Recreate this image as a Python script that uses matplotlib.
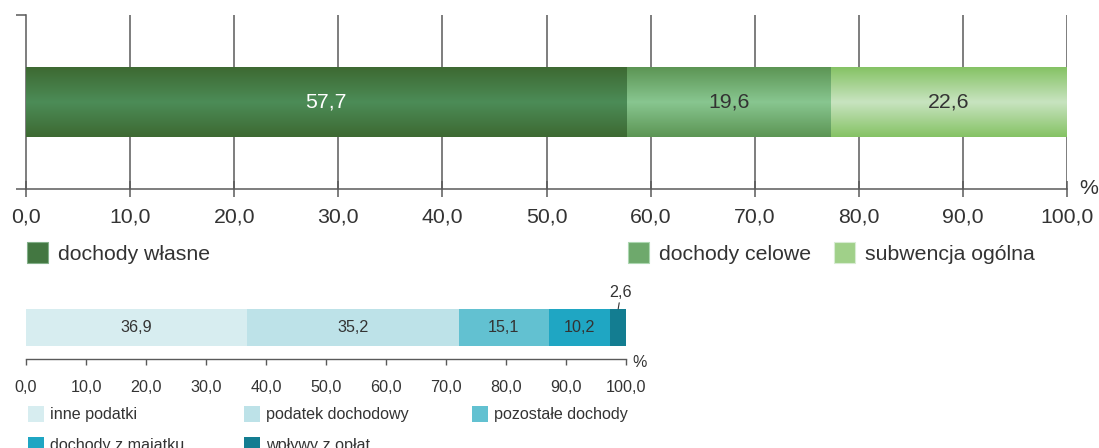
import matplotlib
matplotlib.use("Agg")
import matplotlib.pyplot as plt
import numpy as np
from matplotlib.colors import LinearSegmentedColormap, to_rgb
from matplotlib.patches import Rectangle

plt.rcParams['font.family'] = ['Liberation Sans', 'DejaVu Sans']

# ---- data ----
top_categories = ["dochody własne", "dochody celowe", "subwencja ogólna"]
top_values = [57.7, 19.6, 22.6]
top_edge_colors = ["#3d6932", "#5c9554", "#85c264"]
top_center_colors = ["#4c8c57", "#88c690", "#c8e4c0"]
top_label_colors = ["#ffffff", "#333333", "#333333"]

bottom_categories = ["inne podatki", "podatek dochodowy", "pozostałe dochody",
                     "dochody z majątku", "wpływy z opłat"]
bottom_values = [36.9, 35.2, 15.1, 10.2, 2.6]
bottom_colors = ["#d7edf0", "#bde2e8", "#62c1d1", "#1fa6c3", "#137d91"]

ticks = np.arange(0, 101, 10)
tick_labels = [f"{t:.1f}".replace(".", ",") for t in ticks]

W, H = 1099, 448
fig = plt.figure(figsize=(W / 100, H / 100), dpi=100)

def px_axes(l, t, r, b):
    return fig.add_axes([l / W, 1 - b / H, (r - l) / W, (b - t) / H])

def fmt(v):
    return f"{v:.1f}".replace(".", ",")

def mix(a, b, f=0.5):
    a, b = np.array(to_rgb(a)), np.array(to_rgb(b))
    return tuple(a * (1 - f) + b * f)

axc = "#5a5a5a"
txtc = "#333333"
FS_TOP = 15.3
FS_BOT = 11.6

# ---- top chart ----
ax = px_axes(26, 15, 1067, 189)
ax.set_xlim(0, 100)
ax.set_ylim(0, 1)
left = 0
bars = []
for v, ec, cc in zip(top_values, top_edge_colors, top_center_colors):
    b = ax.barh(0.5, v, left=left, height=0.40, color=cc, zorder=3)[0]
    bars.append(b)
    left += v
for b, ec, cc, lc, v in zip(bars, top_edge_colors, top_center_colors, top_label_colors, top_values):
    cmap = LinearSegmentedColormap.from_list("g", [ec, cc, ec])
    grad = np.linspace(0, 1, 256).reshape(-1, 1)
    im = ax.imshow(grad, cmap=cmap, aspect='auto', zorder=4,
                   extent=(b.get_x(), b.get_x() + b.get_width(), b.get_y(), b.get_y() + b.get_height()))
    im.set_clip_path(b)
    ax.text(b.get_x() + b.get_width() / 2, 0.5, fmt(v), ha='center', va='center',
            color=lc, fontsize=FS_TOP, zorder=5)
ax.set_xlim(0, 100)
ax.set_ylim(0, 1)
for t in ticks[1:]:
    ax.axvline(t, color=axc, lw=1.1, zorder=1)
for s in ['top', 'right']:
    ax.spines[s].set_visible(False)
ax.spines['left'].set_color(axc)
ax.spines['bottom'].set_color(axc)
ax.spines['left'].set_linewidth(1.1)
ax.spines['bottom'].set_linewidth(1.1)
ax.set_xticks(ticks)
ax.set_xticklabels(tick_labels)
ax.tick_params(axis='x', direction='inout', length=11, width=1.1, color=axc,
               labelsize=FS_TOP, labelcolor=txtc, pad=8)
ax.set_yticks([0, 1])
ax.set_yticklabels([])
ax.tick_params(axis='y', direction='out', length=7, width=1.1, color=axc)
fig.text(1089 / W, 1 - 189 / H, "%", ha='center', va='center', fontsize=FS_TOP, color=txtc)

# top legend
top_leg_x = [27, 628, 834]
for x, cat, ec, cc in zip(top_leg_x, top_categories, top_edge_colors, top_center_colors):
    fig.patches.append(Rectangle((x / W, 1 - 263 / H), 21 / W, 21 / H, transform=fig.transFigure,
                                 facecolor=mix(ec, cc, 0.4), edgecolor=mix(cc, "#ffffff", 0.3), lw=0.8))
    fig.text((x + 31) / W, 1 - 254 / H, cat, ha='left', va='center', fontsize=FS_TOP, color=txtc)

# ---- bottom chart ----
ax2 = px_axes(26, 300, 626, 359)
left = 0
bbars = []
for v, c in zip(bottom_values, bottom_colors):
    b = ax2.barh(0.535, v, left=left, height=0.63, color=c, zorder=3)[0]
    bbars.append(b)
    left += v
for b, v in zip(bbars[:-1], bottom_values[:-1]):
    ax2.text(b.get_x() + b.get_width() / 2, 0.535, fmt(v), ha='center', va='center',
             color=txtc, fontsize=FS_BOT, zorder=5)
lb = bbars[-1]
ax2.annotate(fmt(bottom_values[-1]), xy=(lb.get_x() + lb.get_width() * 0.5, lb.get_y() + lb.get_height()),
             xytext=(lb.get_x() - lb.get_width() * 0.05, 1.0), textcoords='data',
             ha='left', va='bottom', fontsize=FS_BOT, color=txtc,
             arrowprops=dict(arrowstyle='-', color=txtc, lw=0.8, shrinkA=0, shrinkB=0),
             annotation_clip=False)
ax2.set_xlim(0, 100)
ax2.set_ylim(0, 1)
for s in ['top', 'right', 'left']:
    ax2.spines[s].set_visible(False)
ax2.spines['bottom'].set_color(axc)
ax2.spines['bottom'].set_linewidth(1.0)
ax2.set_yticks([])
ax2.set_xticks(ticks)
ax2.set_xticklabels(tick_labels)
ax2.tick_params(axis='x', direction='out', length=4, width=1.0, color=axc,
                labelsize=FS_BOT, labelcolor=txtc, pad=11)
fig.text(640 / W, 1 - 362 / H, "%", ha='center', va='center', fontsize=FS_BOT, color=txtc)

# bottom legend
bl_pos = [(28, 414), (244, 414), (472, 414), (28, 445), (244, 445)]
for (x, y), cat, c in zip(bl_pos, bottom_categories, bottom_colors):
    fig.patches.append(Rectangle((x / W, 1 - (y + 8) / H), 16 / W, 16 / H, transform=fig.transFigure,
                                 facecolor=c, edgecolor='none'))
    fig.text((x + 22) / W, 1 - y / H, cat, ha='left', va='center', fontsize=FS_BOT, color=txtc)

fig.savefig("out.png", dpi=100)
